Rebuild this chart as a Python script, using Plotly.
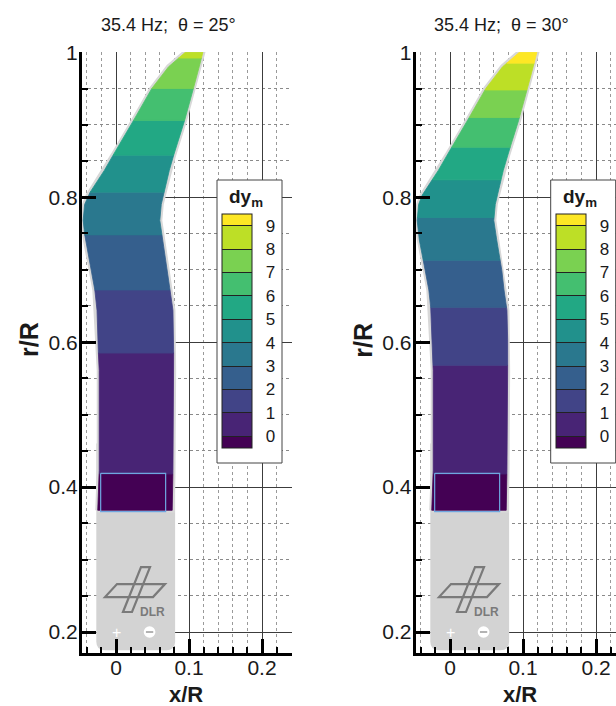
import numpy as np
import plotly.graph_objects as go

# ---- blade planform (x/R of the two edges at radial stations r/R) ----
span_r = [0.368, 0.423, 0.561, 0.603, 0.644, 0.672, 0.699, 0.741, 0.768, 0.790, 0.803,
          0.837, 0.858, 0.906, 0.950, 0.980, 1.000]
edge_le = [-0.025, -0.023, -0.023, -0.025, -0.026, -0.029, -0.034, -0.042, -0.045, -0.043, -0.038,
           -0.016, -0.004, 0.024, 0.049, 0.072, 0.095]
edge_te = [0.077, 0.078, 0.079, 0.079, 0.078, 0.074, 0.071, 0.064, 0.060, 0.062, 0.065,
           0.073, 0.079, 0.094, 0.106, 0.114, 0.119]

# root zone boundary (x/R, r/R)
root_x = [-0.021, 0.068]
root_r = [0.366, 0.419]

# ---- contour levels of dy_m and the radius r/R at which each level is reached ----
level_first, level_step = 0, 1          # legend levels 0, 1, ..., 9
cross_r_25 = [0.418, 0.585, 0.672, 0.748, 0.807, 0.858, 0.906, 0.950, 0.992]
cross_r_30 = [0.418, 0.568, 0.648, 0.713, 0.772, 0.824, 0.869, 0.910, 0.948, 0.985]

panel_titles = ["35.4 Hz;\u00a0 \u03b8 = 25\u00b0", "35.4 Hz;\u00a0 \u03b8 = 30\u00b0"]

x_ticks = [0, 0.1, 0.2]
x_ticktext = ["0", "0.1", "0.2"]
r_ticks = [0.2, 0.4, 0.6, 0.8, 1.0]
r_ticktext = ["0.2", "0.4", "0.6", "0.8", "1"]

# viridis, one colour per band (<0, 0-1, ..., 8-9, >9)
band_colors = ["#440154", "#482475", "#414487", "#355f8d", "#2a788e", "#21918c",
               "#22a884", "#44bf70", "#7ad151", "#bddf26", "#fde725"]

# support plate with the logo (x/R, r/R)
plate_x = [-0.027, 0.081]
plate_r = [0.175, 0.46]

# ---- page geometry (pixels) ----
W, H = 616, 706
SCALE_X, SCALE_Y = 730.0, 725.0
panels_px = [
    dict(left=82, right=292, x0=116),
    dict(left=415.7, right=616, x0=450),
]
TOP_PX, BOT_PX, R1_PX = 52, 653, 52
LEG_TOP, LEG_BOT, LEG_W = 180, 463, 65
BAR_TOP, BAR_BOT = 214, 448
FONT = "Liberation Sans"
INK = "#1a1a1a"

cmin, cmax = -0.5, 9.5
colorscale = []
for i, c in enumerate(band_colors):
    lo = 0.0 if i == 0 else (i - 0.5) / 10.0
    hi = 1.0 if i == len(band_colors) - 1 else (i + 0.5) / 10.0
    colorscale += [[lo, c], [hi, c]]


def section(r_lo, r_hi):
    """Outline of the blade between two radii."""
    inner = [r for r in span_r if r_lo < r < r_hi]
    rr = [r_lo] + inner + [r_hi]
    le = np.interp(rr, span_r, edge_le)
    te = np.interp(rr, span_r, edge_te)
    xs = list(le) + list(te[::-1]) + [le[0]]
    ys = rr + rr[::-1] + [rr[0]]
    return xs, ys


def to_data(px, py, x0px):
    return (px - x0px) / SCALE_X, 1.0 - (py - R1_PX) / SCALE_Y


fig = go.Figure()
shapes, annotations = [], []

for p, (geo, crossings, title) in enumerate(zip(panels_px, [cross_r_25, cross_r_30], panel_titles)):
    sfx = "" if p == 0 else str(p + 1)
    xa, ya = "x" + sfx, "y" + sfx
    cax = "coloraxis" + sfx
    left, right, x0px = geo["left"], geo["right"], geo["x0"]

    # grey halo around the measured surface
    hx, hy = section(span_r[0], span_r[-1])
    fig.add_trace(go.Scatter(x=hx, y=hy, mode="lines", fill="toself",
                             fillcolor="#d8d8d8", line=dict(color="#d8d8d8", width=5),
                             hoverinfo="skip", showlegend=False, xaxis=xa, yaxis=ya))

    # contour bands
    edges = [span_r[0]] + crossings + [span_r[-1]]
    for b in range(len(edges) - 1):
        value = b - 0.5
        bx, by = section(edges[b], edges[b + 1])
        col = band_colors[b]
        fig.add_trace(go.Scatter(
            x=bx, y=by, mode="lines+markers", fill="toself", fillcolor=col,
            line=dict(color=col, width=0.8),
            marker=dict(size=1, opacity=0, color=[value] * len(bx), coloraxis=cax),
            hoverinfo="skip", showlegend=False, xaxis=xa, yaxis=ya))

    # root zone boundary
    fig.add_trace(go.Scatter(
        x=[root_x[0], root_x[1], root_x[1], root_x[0], root_x[0]],
        y=[root_r[1], root_r[1], root_r[0], root_r[0], root_r[1]],
        mode="lines", line=dict(color="#6fa6e0", width=1.2),
        hoverinfo="skip", showlegend=False, xaxis=xa, yaxis=ya))

    # support plate with rounded lower corners
    x0p, x1p = plate_x
    r0p, r1p = plate_r
    rc = 0.012
    shapes.append(dict(
        type="path", xref=xa, yref=ya, layer="between",
        path=(f"M {x0p},{r1p} L {x1p},{r1p} L {x1p},{r0p + rc} Q {x1p},{r0p} {x1p - rc},{r0p} "
              f"L {x0p + rc},{r0p} Q {x0p},{r0p} {x0p},{r0p + rc} Z"),
        fillcolor="#d3d3d3", line=dict(width=0)))

    # DLR logo on the plate (outline of a wing parallelogram crossed by a tilted one)
    wing_px = [(117, 584), (165, 584), (153, 597), (105, 597)]
    body_px = [(141, 567), (150, 567), (132, 612), (123, 612)]
    wing = [to_data(px, py, 116) for px, py in wing_px]
    body = [to_data(px, py, 116) for px, py in body_px]
    path = "M " + " L ".join(f"{x},{r}" for x, r in wing) + " Z"
    path += " M " + " L ".join(f"{x},{r}" for x, r in body) + " Z"
    shapes.append(dict(type="path", xref=xa, yref=ya, layer="between", path=path,
                       line=dict(color="#7a7a7a", width=2.2)))
    dlr_x, dlr_r = to_data(152, 612, 116)
    annotations.append(dict(text="<b>DLR</b>", x=dlr_x, y=dlr_r, xref=xa, yref=ya,
                            showarrow=False, font=dict(family=FONT, size=12, color="#7a7a7a")))
    annotations.append(dict(text="+", x=0.0, y=0.2, xref=xa, yref=ya, showarrow=False,
                            font=dict(family=FONT, size=16, color="white")))
    shapes.append(dict(type="circle", xref=xa, yref=ya, layer="between",
                       x0=0.038, x1=0.054, y0=0.192, y1=0.208,
                       fillcolor="white", line=dict(width=0)))
    shapes.append(dict(type="line", xref=xa, yref=ya, layer="between",
                       x0=0.041, x1=0.051, y0=0.2, y1=0.2, line=dict(color="#9a9a9a", width=1.5)))

    # axes
    xr = [(left - x0px) / SCALE_X, (right - x0px) / SCALE_X]
    yr = [1.0 - (BOT_PX - R1_PX) / SCALE_Y, 1.0 + (R1_PX - TOP_PX) / SCALE_Y + 0.0004]
    axis_common = dict(showline=True, linecolor="black", linewidth=3, mirror=False,
                       ticks="inside", ticklen=14, tickwidth=3, tickcolor="black",
                       showgrid=True, gridcolor="#3c3c3c", gridwidth=1, zeroline=False,
                       tickfont=dict(family=FONT, size=21, color=INK), layer="above traces")
    fig.layout["xaxis" + sfx] = dict(
        axis_common, domain=[left / W, right / W], range=xr, anchor=ya,
        tickmode="array", tickvals=x_ticks, ticktext=x_ticktext, ticklabelstandoff=-6,
        minor=dict(tickmode="linear", tick0=0, dtick=0.02, ticks="inside", ticklen=6,
                   tickwidth=1.5, tickcolor="black", showgrid=True,
                   gridcolor="#9a9a9a", griddash="dot", gridwidth=1))
    fig.layout["yaxis" + sfx] = dict(
        axis_common, domain=[1 - BOT_PX / H, 1 - TOP_PX / H], range=yr, anchor=xa,
        tickmode="array", tickvals=r_ticks, ticktext=r_ticktext, ticklabelstandoff=-3,
        minor=dict(tickmode="linear", tick0=0, dtick=0.05, ticks="inside", ticklen=6,
                   tickwidth=1.5, tickcolor="black", showgrid=True,
                   gridcolor="#8a8a8a", griddash="dot", gridwidth=1))

    # colour legend: framed box, title and colour bar
    box_left = left + 135
    shapes.append(dict(type="rect", xref="paper", yref="paper", layer="above",
                       x0=box_left / W, x1=(box_left + LEG_W) / W,
                       y0=1 - LEG_BOT / H, y1=1 - LEG_TOP / H,
                       fillcolor="white", line=dict(color="#444", width=1)))
    annotations.append(dict(text="<b>dy<sub>m</sub></b>", x=(box_left + 29) / W, y=1 - 198 / H,
                            xref="paper", yref="paper", xanchor="center", yanchor="middle",
                            showarrow=False, font=dict(family=FONT, size=19, color=INK)))
    fig.layout[cax] = dict(
        colorscale=colorscale, cmin=cmin, cmax=cmax,
        colorbar=dict(
            x=box_left / W, xanchor="left", y=1 - BAR_TOP / H, yanchor="top",
            lenmode="pixels", len=BAR_BOT - BAR_TOP, thicknessmode="pixels", thickness=30,
            xpad=5, ypad=0, bgcolor="rgba(0,0,0,0)", borderwidth=0,
            outlinecolor="#222", outlinewidth=1,
            tickmode="linear", tick0=level_first, dtick=level_step,
            ticks="inside", ticklen=30, tickwidth=1, tickcolor="#222",
            tickprefix="\u00a0\u00a0", tickfont=dict(family=FONT, size=17, color=INK)))

    # titles
    annotations.append(dict(text=title, x=(left + 86) / W, y=1 - 25 / H, xref="paper", yref="paper",
                            xanchor="center", yanchor="middle", showarrow=False,
                            font=dict(family=FONT, size=18, color=INK)))
    annotations.append(dict(text="<b>r/R</b>", x=(left - 53) / W, y=1 - 340 / H,
                            xref="paper", yref="paper", xanchor="center", yanchor="middle",
                            showarrow=False, textangle=-90,
                            font=dict(family=FONT, size=25, color=INK)))
    annotations.append(dict(text="<b>x/R</b>", x=(x0px + 70) / W, y=1 - 694 / H,
                            xref="paper", yref="paper", xanchor="center", yanchor="middle",
                            showarrow=False, font=dict(family=FONT, size=22, color=INK)))

fig.update_layout(width=W, height=H, margin=dict(l=0, r=0, t=0, b=0, autoexpand=False),
                  paper_bgcolor="white", plot_bgcolor="white",
                  shapes=shapes, annotations=annotations, showlegend=False,
                  font=dict(family=FONT, color=INK))

fig.write_html("out.html")
